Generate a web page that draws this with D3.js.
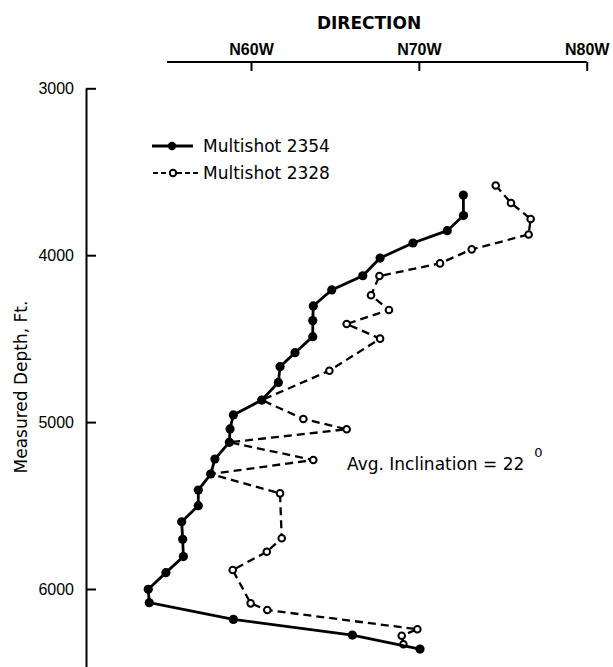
<!DOCTYPE html>
<html>
<head>
<meta charset="utf-8">
<script src="https://d3js.org/d3.v7.min.js"></script>
<style>
  body { margin: 0; background: #fff; }
  svg { display: block; font-family: "DejaVu Sans", sans-serif; }
  .axis path, .axis line { stroke: #000; stroke-width: 2; }
  .axis text { fill: #000; }
</style>
</head>
<body>
<div id="chart"></div>
<script>
// Multishot 2354 (solid, filled dots)
const depth2354 = [3640, 3762, 3853, 3927, 4017, 4123, 4208, 4304, 4392, 4488,
    4584, 4668, 4762, 4868, 4957, 5041, 5121, 5221, 5311, 5407,
    5501, 5597, 5702, 5806, 5902, 6002, 6082, 6182, 6276, 6360];
const dir2354 = [72.65, 72.66, 71.69, 69.65, 67.69, 66.66, 64.81, 63.71, 63.68, 63.68,
    62.62, 61.73, 61.63, 60.64, 58.95, 58.75, 58.71, 57.85, 57.6, 56.86,
    56.86, 55.87, 55.93, 55.97, 54.93, 53.88, 53.94, 58.95, 66.04, 70.07];

// Multishot 2328 (dashed, open circles)
const depth2328 = [3582, 3687, 3783, 3876, 3965, 4049, 4125, 4240, 4328, 4412,
    4500, 4692, 4868, 4981, 5043, 5121, 5227, 5311, 5427, 5696,
    5777, 5886, 6086, 6126, 6241, 6280, 6331];
const dir2328 = [74.58, 75.49, 76.66, 76.54, 73.15, 71.26, 67.65, 67.15, 68.22, 65.7,
    67.69, 64.67, 60.64, 63.12, 65.7, 58.71, 63.71, 57.6, 61.73, 61.83,
    60.94, 58.91, 59.98, 60.97, 69.91, 68.98, 69.08];

const dirTicks = [60, 70, 80];
const dirLabels = ["N60W", "N70W", "N80W"];
const depthTicks = [3000, 4000, 5000, 6000];
const seriesNames = ["Multishot 2354", "Multishot 2328"];

const width = 613, height = 667;

const svg = d3.select("#chart").append("svg")
    .attr("width", width)
    .attr("height", height);

// direction (degrees west of north) -> x, depth -> y (down)
const x = d3.scaleLinear().domain([60, 80]).range([251, 586.7]);
const y = d3.scaleLinear().domain([3000, 6000]).range([88.3, 589]);

// top axis
const topAxis = svg.append("g")
    .attr("class", "axis")
    .attr("transform", "translate(0,62)")
    .call(d3.axisBottom(x)
        .tickValues(dirTicks)
        .tickSize(9)
        .tickSizeOuter(0)
        .tickFormat((d, i) => dirLabels[i]));
topAxis.select(".domain").remove();
topAxis.selectAll("text")
    .attr("y", -7)
    .attr("dy", 0)
    .style("font-size", "16px")
    .style("font-weight", "bold");
topAxis.append("line")
    .attr("x1", x(55)).attr("x2", x(80))
    .attr("y1", 0).attr("y2", 0);

svg.append("text")
    .attr("x", 369)
    .attr("y", 29)
    .attr("text-anchor", "middle")
    .style("font-size", "17px")
    .style("font-weight", "bold")
    .text("DIRECTION");

// left axis, ticks pointing into the plot
const leftAxis = svg.append("g")
    .attr("class", "axis")
    .attr("transform", "translate(86,0)")
    .call(d3.axisLeft(y.copy().domain([3000, y.invert(668)]).range([88.3, 668]))
        .tickValues(depthTicks)
        .tickSize(-10)
        .tickSizeOuter(0)
        .tickPadding(12)
        .tickFormat(d3.format("d")));
leftAxis.selectAll("text")
    .style("font-size", "16px");

svg.append("text")
    .attr("transform", "translate(27,387) rotate(-90)")
    .attr("text-anchor", "middle")
    .style("font-size", "17px")
    .text("Measured Depth, Ft.");

// series
const pts2354 = depth2354.map((d, i) => [dir2354[i], d]);
const pts2328 = depth2328.map((d, i) => [dir2328[i], d]);

const line = d3.line()
    .x(d => x(d[0]))
    .y(d => y(d[1]));

svg.append("path")
    .datum(pts2328)
    .attr("d", line)
    .attr("fill", "none")
    .attr("stroke", "#000")
    .attr("stroke-width", 2.3)
    .attr("stroke-dasharray", "8,5");

svg.append("g").selectAll("circle")
    .data(pts2328)
    .enter()
    .append("circle")
        .attr("cx", d => x(d[0]))
        .attr("cy", d => y(d[1]))
        .attr("r", 3.3)
        .attr("fill", "#fff")
        .attr("stroke", "#000")
        .attr("stroke-width", 2);

svg.append("path")
    .datum(pts2354)
    .attr("d", line)
    .attr("fill", "none")
    .attr("stroke", "#000")
    .attr("stroke-width", 2.8);

svg.append("g").selectAll("circle")
    .data(pts2354)
    .enter()
    .append("circle")
        .attr("cx", d => x(d[0]))
        .attr("cy", d => y(d[1]))
        .attr("r", 4.6)
        .attr("fill", "#000");

// legend
const legend = svg.append("g");
legend.append("line")
    .attr("x1", 152).attr("x2", 193).attr("y1", 146).attr("y2", 146)
    .attr("stroke", "#000").attr("stroke-width", 2.8);
legend.append("circle")
    .attr("cx", 172).attr("cy", 146).attr("r", 4.2)
    .attr("fill", "#000");
legend.append("line")
    .attr("x1", 153).attr("x2", 198).attr("y1", 173).attr("y2", 173)
    .attr("stroke", "#000").attr("stroke-width", 2.2)
    .attr("stroke-dasharray", "5,3");
legend.append("circle")
    .attr("cx", 173).attr("cy", 173).attr("r", 3.2)
    .attr("fill", "#fff").attr("stroke", "#000").attr("stroke-width", 2);
legend.selectAll("text.lbl")
    .data(seriesNames)
    .enter()
    .append("text")
        .attr("class", "lbl")
        .attr("x", 203)
        .attr("y", (d, i) => 152 + i * 27)
        .style("font-size", "17px")
        .text(d => d);

// annotation
const note = svg.append("text")
    .attr("x", 347)
    .attr("y", 470)
    .style("font-size", "17px")
    .text("Avg. Inclination = 22");
note.append("tspan")
    .attr("dx", 10)
    .attr("dy", -13)
    .style("font-size", "13px")
    .text("0");
</script>
</body>
</html>
